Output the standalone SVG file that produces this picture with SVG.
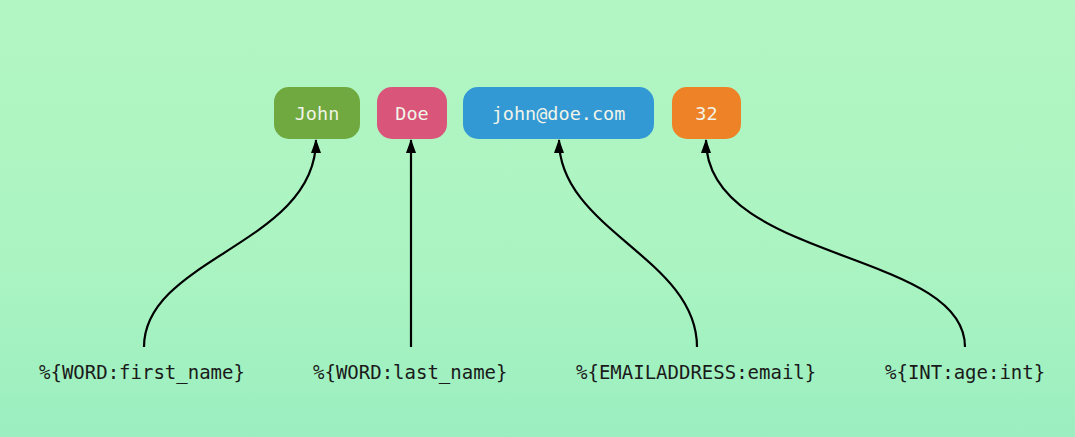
<svg xmlns="http://www.w3.org/2000/svg" width="1075" height="437" viewBox="0 0 1075 437">
  <defs>
    <linearGradient id="bg" x1="0" y1="0" x2="0" y2="1">
      <stop offset="0" stop-color="#b2f6c3"/>
      <stop offset="0.6" stop-color="#abf4c2"/>
      <stop offset="1" stop-color="#9beec0"/>
    </linearGradient>
    <marker id="arrow" viewBox="0 0 14 10" refX="13" refY="5" markerWidth="14" markerHeight="10" markerUnits="userSpaceOnUse" orient="auto">
      <path d="M0,0 L14,5 L0,10 Z" fill="#000"/>
    </marker>
    <style>
      .box-text { font-family: "DejaVu Sans Mono", "Liberation Mono", monospace; font-size: 18.5px; fill: #f1f4e8; text-anchor: middle; }
      .label { font-family: "DejaVu Sans Mono", "Liberation Mono", monospace; font-size: 19px; fill: #1a1a1a; }
      .conn { fill: none; stroke: #000; stroke-width: 2.2; }
    </style>
  </defs>
  <rect width="1075" height="437" fill="url(#bg)"/>

  <g id="node-john">
    <rect x="274" y="87" width="86" height="52" rx="15" fill="#6fa93f"/>
    <text class="box-text" x="317" y="120">John</text>
  </g>
  <g id="node-doe">
    <rect x="377" y="87" width="70" height="52" rx="15" fill="#d9557a"/>
    <text class="box-text" x="412" y="120">Doe</text>
  </g>
  <g id="node-email">
    <rect x="463" y="87" width="191" height="52" rx="15" fill="#3399d4"/>
    <text class="box-text" x="558.5" y="120">john@doe.com</text>
  </g>
  <g id="node-age">
    <rect x="672" y="87" width="69" height="52" rx="15" fill="#ee8227"/>
    <text class="box-text" x="706.5" y="120">32</text>
  </g>

  <g id="label-first">
    <text class="label" x="39" y="379">%{WORD:first_name}</text>
  </g>
  <g id="label-last">
    <text class="label" x="313" y="379">%{WORD:last_name}</text>
  </g>
  <g id="label-email">
    <text class="label" x="576" y="379">%{EMAILADDRESS:email}</text>
  </g>
  <g id="label-age">
    <text class="label" x="885" y="379">%{INT:age:int}</text>
  </g>

  <g id="connectors">
    <path class="conn" d="M144,347 C144,258 316,244 316,140" marker-end="url(#arrow)"/>
    <path class="conn" d="M411,347 L411,140" marker-end="url(#arrow)"/>
    <path class="conn" d="M697,347 C697,258 559,230 559,140" marker-end="url(#arrow)"/>
    <path class="conn" d="M965,347 C965,250 706,262 706,140" marker-end="url(#arrow)"/>
  </g>
</svg>
